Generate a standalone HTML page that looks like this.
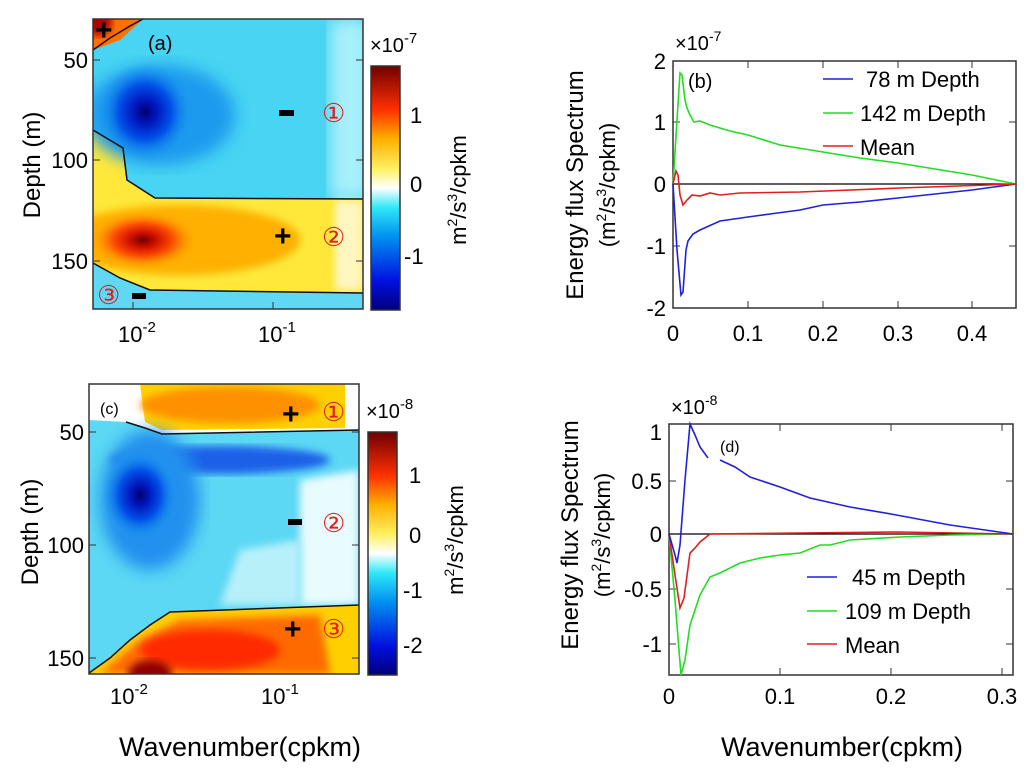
<!DOCTYPE html>
<html><head><meta charset="utf-8"><style>
html,body{margin:0;padding:0;background:#fff;}
svg{display:block;font-family:"Liberation Sans",Arial,sans-serif;}
</style></head><body>
<svg width="1036" height="784" viewBox="0 0 1036 784" xmlns="http://www.w3.org/2000/svg">
<defs>
<linearGradient id="cb" x1="0" y1="1" x2="0" y2="0">
<stop offset="0" stop-color="#00007a"/><stop offset="0.12" stop-color="#0010e0"/><stop offset="0.3" stop-color="#0090f0"/><stop offset="0.42" stop-color="#30e8f8"/><stop offset="0.5" stop-color="#ffffff"/><stop offset="0.58" stop-color="#fff060"/><stop offset="0.7" stop-color="#ffb000"/><stop offset="0.82" stop-color="#ff3000"/><stop offset="1" stop-color="#700000"/>
</linearGradient>
<radialGradient id="blueA"><stop offset="0" stop-color="#000070"/><stop offset="0.25" stop-color="#0018c0"/><stop offset="0.55" stop-color="#0050e8"/><stop offset="1" stop-color="#1aa0f0" stop-opacity="0"/></radialGradient>
<radialGradient id="redA"><stop offset="0" stop-color="#700000"/><stop offset="0.25" stop-color="#d01000"/><stop offset="0.55" stop-color="#ff5000"/><stop offset="1" stop-color="#ffb000" stop-opacity="0"/></radialGradient>
<filter id="bl"><feGaussianBlur stdDeviation="4"/></filter>
<filter id="bl2"><feGaussianBlur stdDeviation="8"/></filter>
<clipPath id="ca"><rect x="93" y="19" width="270" height="290"/></clipPath>
<clipPath id="cc"><rect x="89" y="384" width="270" height="290"/></clipPath>
</defs>

<!-- Panel a -->
<g clip-path="url(#ca)">
<rect x="93" y="19" width="270" height="290" fill="#48d4f2"/>
<rect x="330" y="19" width="40" height="180" fill="#a8f0fa" filter="url(#bl2)"/>
<polygon points="93,19 143,19 120,40 93,50" fill="#ff7000"/>
<circle cx="98" cy="22" r="14" fill="#b00000" filter="url(#bl)"/>
<polygon points="93,130 123,148 127,180 155,198 363,199 363,309 93,309" fill="#ffe83a"/>
<ellipse cx="160" cy="115" rx="75" ry="50" fill="#1c9aee" filter="url(#bl2)"/>
<ellipse cx="145" cy="112" rx="48" ry="50" fill="url(#blueA)"/>
<ellipse cx="180" cy="240" rx="120" ry="35" fill="#ffb000" filter="url(#bl)"/>
<ellipse cx="143" cy="240" rx="55" ry="30" fill="url(#redA)"/>
<polygon points="335,200 363,200 363,290 335,290" fill="#fff6c0" filter="url(#bl)"/>
<polygon points="93,263 120,278 150,290 363,293 363,309 93,309" fill="#60d8f4"/>
<polyline points="93,50 110,38 130,26 143,19" fill="none" stroke="#111" stroke-width="1.5"/>
<polyline points="93,130 123,148 127,180 155,198 363,199" fill="none" stroke="#111" stroke-width="1.5"/>
<polyline points="93,263 120,278 150,290 363,293" fill="none" stroke="#111" stroke-width="1.5"/>
</g>
<rect x="93" y="19" width="270" height="290" fill="none" stroke="#333" stroke-width="1.5"/>
<g stroke="#333" stroke-width="1">
<line x1="93" y1="60" x2="100" y2="60"/><line x1="93" y1="160" x2="100" y2="160"/><line x1="93" y1="261" x2="100" y2="261"/>
<line x1="363" y1="60" x2="356" y2="60"/><line x1="363" y1="160" x2="356" y2="160"/><line x1="363" y1="261" x2="356" y2="261"/>
<line x1="133" y1="309" x2="133" y2="302"/><line x1="273" y1="309" x2="273" y2="302"/>
</g>
<text x="148" y="50" font-size="20">(a)</text>
<text x="95" y="40" font-size="30" font-weight="bold">+</text>
<rect x="279" y="110" width="15" height="6" fill="#000"/>
<text x="322" y="122" font-size="26" fill="#e02020" font-family="Liberation Serif">①</text>
<text x="274" y="246" font-size="30" font-weight="bold">+</text>
<text x="322" y="246" font-size="26" fill="#e02020" font-family="Liberation Serif">②</text>
<text x="97" y="304" font-size="26" fill="#e02020" font-family="Liberation Serif">③</text>
<rect x="132" y="293" width="14" height="6" fill="#000"/>
<g font-size="22" text-anchor="end"><text x="88" y="68">50</text><text x="88" y="168">100</text><text x="88" y="269">150</text></g>
<text x="118" y="342" font-size="22">10<tspan dy="-10" font-size="15">-2</tspan></text>
<text x="258" y="342" font-size="22">10<tspan dy="-10" font-size="15">-1</tspan></text>
<text transform="translate(40,165) rotate(-90)" font-size="24" text-anchor="middle">Depth (m)</text>
<rect x="371" y="66" width="29" height="244" fill="url(#cb)" stroke="#333" stroke-width="1.5"/>
<text x="370" y="52" font-size="20">×10<tspan dy="-9" font-size="15">-7</tspan></text>
<g font-size="22"><text x="410" y="123">1</text><text x="410" y="192">0</text><text x="404" y="264">-1</text></g>
<text transform="translate(466,190) rotate(-90)" font-size="22" text-anchor="middle">m<tspan dy="-9" font-size="14">2</tspan><tspan dy="9">/s</tspan><tspan dy="-9" font-size="14">3</tspan><tspan dy="9">/cpkm</tspan></text>

<!-- Panel c -->
<g clip-path="url(#cc)">
<rect x="89" y="384" width="270" height="290" fill="#5cd8f4"/>
<polygon points="89,384 359,384 359,430 162,434 126,422 89,420" fill="#ffffff"/>
<polygon points="140,384 345,384 345,428 162,430 145,422" fill="#ffd000"/>
<ellipse cx="230" cy="405" rx="90" ry="18" fill="#ff9000" filter="url(#bl)"/>
<polygon points="300,480 359,470 359,605 300,605" fill="#e8fbfe" filter="url(#bl)"/>
<polygon points="240,550 300,540 300,605 220,605" fill="#b8f0fa" filter="url(#bl)"/>
<ellipse cx="220" cy="460" rx="110" ry="14" fill="#1c60e8" filter="url(#bl)"/>
<ellipse cx="150" cy="500" rx="50" ry="70" fill="#2090ee" filter="url(#bl2)"/>
<ellipse cx="140" cy="495" rx="38" ry="45" fill="url(#blueA)"/>
<polygon points="89,674 130,640 170,612 359,605 359,674" fill="#ffd000"/>
<polygon points="100,674 140,640 180,620 320,615 330,674" fill="#ff6a00" filter="url(#bl)"/>
<ellipse cx="210" cy="650" rx="70" ry="20" fill="#ff2a00" filter="url(#bl)"/>
<ellipse cx="150" cy="674" rx="22" ry="14" fill="#900000" filter="url(#bl)"/>
<polyline points="126,422 145,428 162,434 359,430" fill="none" stroke="#111" stroke-width="1.5"/>
<polyline points="89,673 110,658 130,640 150,625 170,612 359,605" fill="none" stroke="#111" stroke-width="1.5"/>
</g>
<rect x="89" y="384" width="270" height="290" fill="none" stroke="#333" stroke-width="1.5"/>
<g stroke="#333" stroke-width="1">
<line x1="89" y1="432" x2="96" y2="432"/><line x1="89" y1="545" x2="96" y2="545"/><line x1="89" y1="658" x2="96" y2="658"/>
<line x1="359" y1="432" x2="352" y2="432"/><line x1="359" y1="545" x2="352" y2="545"/><line x1="359" y1="658" x2="352" y2="658"/>
</g>
<text x="100" y="414" font-size="16">(c)</text>
<text x="282" y="424" font-size="30" font-weight="bold">+</text>
<text x="322" y="421" font-size="26" fill="#e02020" font-family="Liberation Serif">①</text>
<rect x="288" y="519" width="14" height="6" fill="#000"/>
<text x="322" y="532" font-size="26" fill="#e02020" font-family="Liberation Serif">②</text>
<text x="284" y="639" font-size="30" font-weight="bold">+</text>
<text x="322" y="638" font-size="26" fill="#e02020" font-family="Liberation Serif">③</text>
<g font-size="22" text-anchor="end"><text x="84" y="440">50</text><text x="84" y="553">100</text><text x="84" y="666">150</text></g>
<text x="110" y="704" font-size="22">10<tspan dy="-10" font-size="15">-2</tspan></text>
<text x="261" y="704" font-size="22">10<tspan dy="-10" font-size="15">-1</tspan></text>
<text transform="translate(38,532) rotate(-90)" font-size="24" text-anchor="middle">Depth (m)</text>
<rect x="368" y="432" width="29" height="243" fill="url(#cb)" stroke="#333" stroke-width="1.5"/>
<text x="366" y="418" font-size="20">×10<tspan dy="-9" font-size="15">-8</tspan></text>
<g font-size="22"><text x="409" y="483">1</text><text x="409" y="543">0</text><text x="403" y="598">-1</text><text x="403" y="653">-2</text></g>
<text transform="translate(463,540) rotate(-90)" font-size="22" text-anchor="middle">m<tspan dy="-9" font-size="14">2</tspan><tspan dy="9">/s</tspan><tspan dy="-9" font-size="14">3</tspan><tspan dy="9">/cpkm</tspan></text>

<text x="240" y="756" font-size="27" text-anchor="middle">Wavenumber(cpkm)</text>
<text x="842" y="756" font-size="27" text-anchor="middle">Wavenumber(cpkm)</text>

<!-- Panel b -->
<rect x="673" y="61" width="343" height="247" fill="none" stroke="#333" stroke-width="1.5"/>
<g stroke="#333" stroke-width="1">
<line x1="673" y1="122" x2="680" y2="122"/><line x1="673" y1="246" x2="680" y2="246"/>
<line x1="1016" y1="122" x2="1009" y2="122"/><line x1="1016" y1="246" x2="1009" y2="246"/>
<line x1="748" y1="61" x2="748" y2="68"/><line x1="823" y1="61" x2="823" y2="68"/><line x1="898" y1="61" x2="898" y2="68"/><line x1="972" y1="61" x2="972" y2="68"/>
<line x1="748" y1="308" x2="748" y2="301"/><line x1="823" y1="308" x2="823" y2="301"/><line x1="898" y1="308" x2="898" y2="301"/><line x1="972" y1="308" x2="972" y2="301"/>
</g>
<line x1="673" y1="184" x2="1016" y2="184" stroke="#000" stroke-width="1.3"/>
<polyline fill="none" stroke="#22dd22" stroke-width="1.6" points="673,184 677,120 680,73 682,75 685,100 687,108 690,115 694,122 700,121 710,125 730,131 748,135 780,145 823,152 860,158 898,163 935,169 972,175 1016,184"/>
<polyline fill="none" stroke="#2020dd" stroke-width="1.6" points="673,184 677,250 681,295 683,292 686,250 688,241 693,234 700,230 720,221 748,217 770,214 800,210 823,205 860,202 898,198 935,194 972,190 1016,184"/>
<polyline fill="none" stroke="#e02020" stroke-width="1.6" points="673,184 676,171 678,175 680,195 683,205 687,200 692,195 700,196 710,193 720,195 740,193 800,192 900,188 1016,184"/>
<text x="688" y="88" font-size="20">(b)</text>
<line x1="823" y1="79" x2="853" y2="79" stroke="#2020dd" stroke-width="1.6"/>
<line x1="823" y1="113" x2="853" y2="113" stroke="#22dd22" stroke-width="1.6"/>
<line x1="823" y1="146" x2="853" y2="146" stroke="#e02020" stroke-width="1.6"/>
<g font-size="22"><text x="866" y="87">78 m Depth</text><text x="860" y="121">142 m Depth</text><text x="860" y="155">Mean</text></g>
<g font-size="22" text-anchor="end"><text x="666" y="69">2</text><text x="666" y="130">1</text><text x="666" y="192">0</text><text x="666" y="254">-1</text><text x="666" y="316">-2</text></g>
<g font-size="22" text-anchor="middle"><text x="673" y="341">0</text><text x="748" y="341">0.1</text><text x="823" y="341">0.2</text><text x="898" y="341">0.3</text><text x="972" y="341">0.4</text></g>
<text x="675" y="50" font-size="20">×10<tspan dy="-9" font-size="14">-7</tspan></text>
<text transform="translate(583,185) rotate(-90)" font-size="24" text-anchor="middle">Energy flux Spectrum</text>
<text transform="translate(615,185) rotate(-90)" font-size="22" text-anchor="middle">(m<tspan dy="-9" font-size="14">2</tspan><tspan dy="9">/s</tspan><tspan dy="-9" font-size="14">3</tspan><tspan dy="9">/cpkm)</tspan></text>

<!-- Panel d -->
<rect x="669" y="424" width="344" height="251" fill="none" stroke="#333" stroke-width="1.5"/>
<g stroke="#333" stroke-width="1">
<line x1="669" y1="481" x2="676" y2="481"/><line x1="669" y1="589" x2="676" y2="589"/><line x1="669" y1="644" x2="676" y2="644"/>
<line x1="1013" y1="481" x2="1006" y2="481"/><line x1="1013" y1="589" x2="1006" y2="589"/><line x1="1013" y1="644" x2="1006" y2="644"/>
<line x1="780" y1="424" x2="780" y2="431"/><line x1="891" y1="424" x2="891" y2="431"/><line x1="1002" y1="424" x2="1002" y2="431"/>
<line x1="780" y1="675" x2="780" y2="668"/><line x1="891" y1="675" x2="891" y2="668"/><line x1="1002" y1="675" x2="1002" y2="668"/>
</g>
<line x1="669" y1="534" x2="1013" y2="534" stroke="#000" stroke-width="1.3"/>
<polyline fill="none" stroke="#22dd22" stroke-width="1.6" points="669,534 675,600 681,675 685,660 690,625 700,595 710,577 720,573 740,563 760,558 780,555 800,553 820,545 830,545 850,540 900,537 950,535 1013,534"/>
<polyline fill="none" stroke="#e02020" stroke-width="1.6" points="669,534 675,575 680,608 684,598 690,553 695,548 700,542 710,534 800,533 900,532 1013,534"/>
<polyline fill="none" stroke="#2020dd" stroke-width="1.6" points="669,534 675,555 677,563 680,545 685,480 690,424 695,435 700,447 708,458"/>
<polyline fill="none" stroke="#2020dd" stroke-width="1.6" points="720,460 735,467 750,477 780,487 810,498 850,507 891,514 950,525 1013,534"/>
<text x="720" y="452" font-size="16">(d)</text>
<line x1="807" y1="577" x2="837" y2="577" stroke="#2020dd" stroke-width="1.6"/>
<line x1="807" y1="611" x2="837" y2="611" stroke="#22dd22" stroke-width="1.6"/>
<line x1="807" y1="644" x2="837" y2="644" stroke="#e02020" stroke-width="1.6"/>
<g font-size="22"><text x="852" y="585">45 m Depth</text><text x="845" y="619">109 m Depth</text><text x="845" y="653">Mean</text></g>
<g font-size="22" text-anchor="end"><text x="662" y="440">1</text><text x="662" y="489">0.5</text><text x="662" y="542">0</text><text x="662" y="597">-0.5</text><text x="662" y="652">-1</text></g>
<g font-size="22" text-anchor="middle"><text x="669" y="704">0</text><text x="780" y="704">0.1</text><text x="891" y="704">0.2</text><text x="1002" y="704">0.3</text></g>
<text x="671" y="414" font-size="20">×10<tspan dy="-9" font-size="14">-8</tspan></text>
<text transform="translate(578,535) rotate(-90)" font-size="24" text-anchor="middle">Energy flux Spectrum</text>
<text transform="translate(610,535) rotate(-90)" font-size="22" text-anchor="middle">(m<tspan dy="-9" font-size="14">2</tspan><tspan dy="9">/s</tspan><tspan dy="-9" font-size="14">3</tspan><tspan dy="9">/cpkm)</tspan></text>
</svg>
</body></html>
